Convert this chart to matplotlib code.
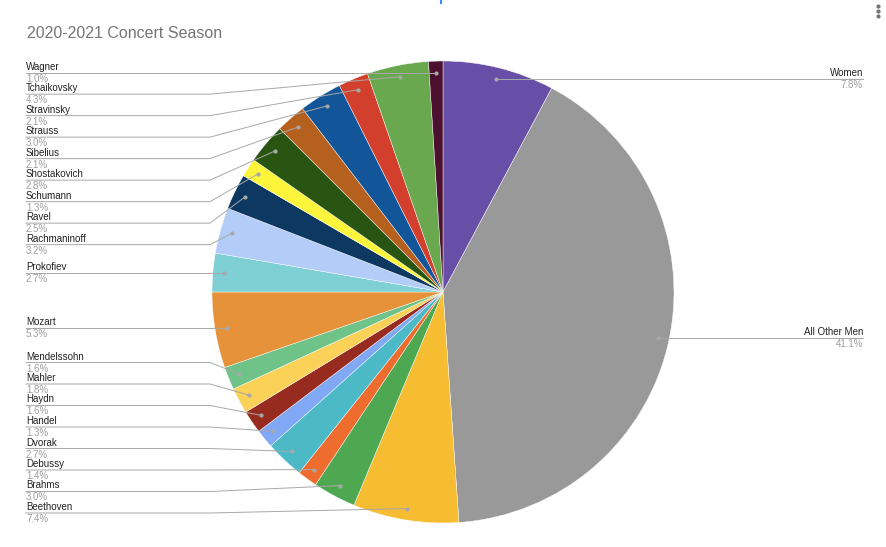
import numpy as np
import matplotlib
matplotlib.use("Agg")
import matplotlib.pyplot as plt

plt.rcParams['font.family'] = ['Liberation Sans', 'DejaVu Sans']

title = "2020-2021 Concert Season"

composers = ["Women", "All Other Men", "Beethoven", "Brahms", "Debussy", "Dvorak",
             "Handel", "Haydn", "Mahler", "Mendelssohn", "Mozart", "Prokofiev",
             "Rachmaninoff", "Ravel", "Schumann", "Shostakovich", "Sibelius",
             "Strauss", "Stravinsky", "Tchaikovsky", "Wagner"]
shares = [7.8, 41.1, 7.4, 3.0, 1.4, 2.7, 1.3, 1.6, 1.8, 1.6, 5.3, 2.7,
          3.2, 2.5, 1.3, 2.8, 2.1, 3.0, 2.1, 4.3, 1.0]
colors = ["#674ea7", "#999999", "#f6bd33", "#4da851", "#ef6c2f", "#4cb9c7",
          "#80a8f5", "#982b1f", "#fbd158", "#6fc389", "#e5923a", "#7ed0d5",
          "#b3cdf8", "#0c3862", "#fcf53b", "#295512", "#b5601f", "#125599",
          "#d23f2c", "#6aa84f", "#4c1130"]

W, H = 887, 547
fig = plt.figure(figsize=(W / 100, H / 100), dpi=100)
ax = fig.add_axes([0, 0, 1, 1])

cx, cy, R = 443, 292, 231   # pixel coords, y measured from top


def py(y):
    return H - y


ax.pie(shares, colors=colors, startangle=90, counterclock=False,
       center=(cx, py(cy)), radius=R,
       wedgeprops=dict(edgecolor="white", linewidth=0.3))
ax.set_xlim(0, W)
ax.set_ylim(0, H)
ax.set_aspect("equal")
ax.axis("off")

# label anchor points inside slices
vals = np.array(shares)
cum = np.cumsum(vals) - vals / 2
ang = np.deg2rad(cum / vals.sum() * 360)
dx = cx + 0.95 * R * np.sin(ang)
dy = cy - 0.95 * R * np.cos(ang)

line_col = "#a8a8a8"
name_col = "#222222"
pct_col = "#9e9e9e"
fs = 7

right = [i for i in range(len(composers)) if np.sin(ang[i]) > 0]
left = [i for i in range(len(composers)) if np.sin(ang[i]) <= 0]
left.sort(key=lambda i: dy[i])

# spread left labels
gap = 21.5
ly = {i: dy[i] for i in left}
prev = None
for i in left:
    if prev is not None and ly[i] < ly[prev] + gap:
        ly[i] = ly[prev] + gap
    prev = i
nxt = None
for i in reversed(left):
    lim = 513 if nxt is None else ly[nxt] - gap
    if ly[i] > lim:
        ly[i] = lim
    nxt = i

for i in left:
    y = ly[i]
    ax.plot([26, 210, dx[i]], [py(y), py(y), py(dy[i])], color=line_col, lw=0.7)
    ax.plot(dx[i], py(dy[i]), "o", color=line_col, ms=2)
    ax.text(26, py(y - 1), composers[i], fontsize=fs, color=name_col, va="bottom", ha="left")
    ax.text(26, py(y + 1), f"{shares[i]:.1f}%", fontsize=fs, color=pct_col, va="top", ha="left")

for i in right:
    y = dy[i]
    ax.plot([863, 678, dx[i]], [py(y), py(y), py(dy[i])], color=line_col, lw=0.7)
    ax.plot(dx[i], py(dy[i]), "o", color=line_col, ms=2)
    ax.text(863, py(y - 1), composers[i], fontsize=fs, color=name_col, va="bottom", ha="right")
    ax.text(863, py(y + 1), f"{shares[i]:.1f}%", fontsize=fs, color=pct_col, va="top", ha="right")

fig.text(27 / W, 1 - 33 / H, title, fontsize=11.5, color="#757575", va="center", ha="left")

# menu dots and small mark at the top
for yy in (6, 11, 16):
    ax.plot(878, py(yy), "o", color="#757575", ms=2)
ax.plot([441, 441], [py(0), py(3)], color="#4285f4", lw=1.5)

fig.savefig("out.png", dpi=100)
